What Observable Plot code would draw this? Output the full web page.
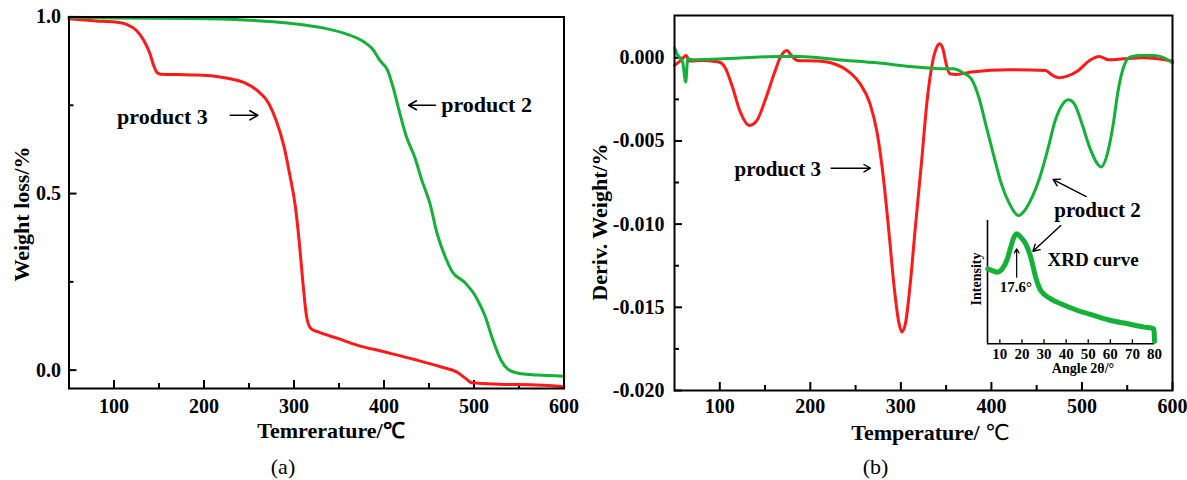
<!DOCTYPE html>
<html>
<head>
<meta charset="utf-8">
<script src="https://cdn.jsdelivr.net/npm/d3@7"></script>
<script src="https://cdn.jsdelivr.net/npm/@observablehq/plot@0.6"></script>
<style>
  html, body { margin: 0; padding: 0; background: #fff; }
  #root { position: relative; width: 1187px; height: 480px; overflow: hidden; background: #fff; font-family: "Liberation Serif", "Times New Roman", serif; }
  #root svg { position: absolute; overflow: visible; background: transparent; }
  #root svg text { font-family: "Liberation Serif", "Times New Roman", serif; font-weight: bold; fill: #000; }
  .lbl { position: absolute; white-space: nowrap; color: #000; transform: translate(-50%, -50%); font-weight: bold; line-height: 1; }
  .rot { transform: translate(-50%, -50%) rotate(-90deg); }
  .thin { font-weight: normal; font-family: "DejaVu Sans", sans-serif; }
</style>
</head>
<body>
<div id="root"></div>
<script>
// ---------- data: panel (a) TGA ----------
const tgaTempP3 = [50, 80, 101, 114, 125, 133, 140, 144, 148, 152, 186, 212, 229, 246, 259, 272, 280, 289, 295, 301.6, 306, 310, 314, 318.7, 327, 348.5, 370, 400, 434, 463.6, 480.6, 491, 497.7, 527.5, 570, 600];
const tgaWeightP3 = [0.995, 0.989, 0.986, 0.979, 0.962, 0.934, 0.896, 0.863, 0.842, 0.838, 0.836, 0.832, 0.825, 0.813, 0.792, 0.755, 0.708, 0.632, 0.557, 0.462, 0.358, 0.245, 0.151, 0.118, 0.108, 0.090, 0.071, 0.052, 0.030, 0.009, -0.005, -0.024, -0.036, -0.040, -0.042, -0.047];
const tgaTempP2 = [50, 101, 186.5, 250, 293, 336, 357, 378, 387, 395.4, 404, 410, 416.7, 425, 434, 442, 451, 459, 468, 476, 489, 502, 512.6, 521, 530, 538, 549, 570, 600];
const tgaWeightP2 = [0.999, 0.997, 0.996, 0.991, 0.983, 0.967, 0.953, 0.929, 0.910, 0.877, 0.849, 0.802, 0.736, 0.660, 0.604, 0.538, 0.472, 0.387, 0.321, 0.278, 0.250, 0.208, 0.151, 0.085, 0.028, 0.002, -0.009, -0.014, -0.017];

// ---------- data: panel (b) DTG ----------
const dtgTempP3 = [50, 57, 63, 66, 82, 99, 105.5, 114, 122, 133, 141, 150, 160, 167, 174, 179, 186, 209, 226, 243, 255, 266, 274, 280.6, 287, 293, 298, 301, 305, 310, 316, 323, 329, 335.4, 339.7, 343, 346.4, 350, 354, 361, 377.6, 420, 460, 466, 474.7, 483, 496, 508.4, 519, 529.5, 546, 567.5, 600];
const dtgDerivP3 = [-0.00046, -0.00016, 0.00014, -0.00020, -0.00016, -0.00026, -0.00056, -0.00176, -0.00317, -0.00407, -0.00377, -0.00257, -0.00096, 0.00004, 0.00044, 0.00014, -0.00016, -0.00020, -0.00036, -0.00086, -0.00156, -0.00277, -0.00457, -0.00717, -0.01058, -0.01399, -0.01599, -0.01649, -0.01599, -0.01379, -0.01018, -0.00617, -0.00257, -0.00016, 0.00064, 0.00084, 0.00054, -0.00036, -0.00096, -0.00100, -0.00086, -0.00072, -0.00076, -0.00100, -0.00120, -0.00112, -0.00076, -0.00016, 0.00008, -0.00012, -0.00006, 0.00000, -0.00020];
const dtgTempP2 = [50, 52.7, 59, 62.4, 64.6, 69.6, 99, 167, 188, 230, 276, 310, 348, 358, 369, 377.6, 386, 394.5, 403, 411, 420, 430, 436.7, 445, 453.6, 462, 470.5, 479, 485, 491.6, 500, 508.4, 517, 521, 527, 534, 540, 546, 552.8, 563, 580, 593, 600];
const dtgDerivP2 = [0.00060, 0.00024, -0.00026, -0.00146, -0.00006, -0.00012, -0.00008, 0.00008, 0.00008, -0.00012, -0.00032, -0.00052, -0.00066, -0.00066, -0.00092, -0.00126, -0.00236, -0.00417, -0.00597, -0.00758, -0.00878, -0.00948, -0.00918, -0.00838, -0.00717, -0.00557, -0.00377, -0.00277, -0.00253, -0.00277, -0.00397, -0.00537, -0.00637, -0.00657, -0.00597, -0.00417, -0.00196, -0.00056, 0.00004, 0.00014, 0.00014, -0.00006, -0.00032];

// ---------- data: inset XRD ----------
const xrdAngle = [4.5, 6.5, 8.8, 11.1, 13.4, 14.9, 16.4, 17.6, 19.4, 21.7, 24, 26.2, 28.5, 33, 37.6, 45.2, 52.7, 60.3, 67.9, 75.5, 79.7, 80];
const xrdIntensity = [60.8, 59.4, 58.1, 60.8, 68.9, 78.3, 86.5, 89.2, 86.5, 81.1, 70.2, 54.0, 43.2, 36.5, 32.4, 27.0, 22.9, 18.9, 16.2, 13.5, 12.2, 2];

// ---------- ticks ----------
const tempTicks = [100, 200, 300, 400, 500, 600];
const tempMinorTicks = [150, 250, 350, 450, 550];
const weightTicks = [0, 0.5, 1.0];
const weightMinorTicks = [0.25, 0.75];
const derivTicks = [0, -0.005, -0.010, -0.015, -0.020];
const derivMinorTicks = [-0.0025, -0.0075, -0.0125, -0.0175];
const angleTicks = [10, 20, 30, 40, 50, 60, 70, 80];

// ---------- annotations ----------
const labelsA = [
  {text: "product 3", x: 103.4, y: 0.717},
  {text: "product 2", x: 463.6, y: 0.750}
];
const arrowsA = [
  {x1: 229.2, y1: 0.7217, x2: 259.8, y2: 0.7217},
  {x1: 457.2, y1: 0.750, x2: 427.4, y2: 0.750}
];
const labelsB = [
  {text: "product 3", x: 116.3, y: -0.00668, size: 21},
  {text: "product 2", x: 469.4, y: -0.00918, size: 21},
  {text: "XRD curve", x: 461.9, y: -0.01218, size: 19}
];
const arrowsB = [
  {x1: 223, y1: -0.00664, x2: 266.4, y2: -0.00664},
  {x1: 504.8, y1: -0.00834, x2: 468.2, y2: -0.00732},
  {x1: 476.6, y1: -0.01008, x2: 445.9, y2: -0.01163}
];
const labelsInset = [{text: "17.6°", x: 10, y: 45.9}];
const arrowsInset = [{x1: 17.6, y1: 54, x2: 17.6, y2: 77}];

const RED = "#ff1a1a";
const GREEN = "#14b139";

const root = document.getElementById("root");
const zip = (xs, ys) => xs.map((x, i) => ({x, y: ys[i]}));

// inward ticks: short rules from the frame edge, length given in pixels
function inwardX(ticks, xDom, yDom, innerH, len, sw) {
  const y0 = yDom[0], dy = (yDom[1] - yDom[0]) * len / innerH;
  return Plot.ruleX(ticks, {x: d => d, y1: () => y0, y2: () => y0 + dy, stroke: "#000", strokeWidth: sw});
}
function inwardY(ticks, xDom, innerW, len, sw) {
  const x0 = xDom[0], dx = (xDom[1] - xDom[0]) * len / innerW;
  return Plot.ruleY(ticks, {y: d => d, x1: () => x0, x2: () => x0 + dx, stroke: "#000", strokeWidth: sw});
}

// ---------- panel (a) ----------
const A = {w: 590, h: 480, ml: 68.5, mr: 26.5, mt: 16.5, mb: 92};
const aiW = A.w - A.ml - A.mr, aiH = A.h - A.mt - A.mb;
const aX = [50, 600], aY = [-0.052, 1.0];
const plotA = Plot.plot({
  width: A.w, height: A.h,
  marginLeft: A.ml, marginRight: A.mr, marginTop: A.mt, marginBottom: A.mb,
  x: {domain: aX},
  y: {domain: aY},
  style: {fontFamily: "Liberation Serif", fontSize: "20px", background: "transparent", overflow: "visible"},
  marks: [
    Plot.axisX(tempTicks, {tickSize: 0, tickPadding: 10, fontSize: 20, label: null}),
    Plot.axisY(weightTicks, {tickSize: 0, tickPadding: 8, fontSize: 20, label: null, tickFormat: d => d.toFixed(1)}),
    inwardX(tempTicks, aX, aY, aiH, 8, 2),
    inwardX(tempMinorTicks, aX, aY, aiH, 5, 2),
    inwardY(weightTicks, aX, aiW, 8, 2),
    inwardY(weightMinorTicks, aX, aiW, 5, 2),
    Plot.line(zip(tgaTempP3, tgaWeightP3), {x: "x", y: "y", stroke: RED, strokeWidth: 3, curve: "monotone-x"}),
    Plot.line(zip(tgaTempP2, tgaWeightP2), {x: "x", y: "y", stroke: GREEN, strokeWidth: 3, curve: "monotone-x"}),
    Plot.frame({stroke: "#000", strokeWidth: 2}),
    Plot.text(labelsA, {x: "x", y: "y", text: "text", textAnchor: "start", fontSize: 22}),
    Plot.arrow(arrowsA, {x1: "x1", y1: "y1", x2: "x2", y2: "y2", stroke: "#000", strokeWidth: 1.6, headLength: 9})
  ]
});
plotA.style.left = "0px"; plotA.style.top = "0px";
root.appendChild(plotA);

// ---------- panel (b) ----------
const B = {w: 597, h: 480, ml: 84, mr: 15, mt: 15, mb: 90};
const biW = B.w - B.ml - B.mr, biH = B.h - B.mt - B.mb;
const bX = [50, 600], bY = [-0.020, 0.00254];
const plotB = Plot.plot({
  width: B.w, height: B.h,
  marginLeft: B.ml, marginRight: B.mr, marginTop: B.mt, marginBottom: B.mb,
  x: {domain: bX},
  y: {domain: bY},
  style: {fontFamily: "Liberation Serif", fontSize: "20px", background: "transparent", overflow: "visible"},
  marks: [
    Plot.axisX(tempTicks, {tickSize: 0, tickPadding: 8, fontSize: 20, label: null}),
    Plot.axisY(derivTicks, {tickSize: 0, tickPadding: 10, fontSize: 20, label: null, tickFormat: d => d.toFixed(3)}),
    inwardX(tempTicks, bX, bY, biH, 8, 2),
    inwardX(tempMinorTicks, bX, bY, biH, 5, 2),
    inwardY(derivTicks, bX, biW, 8, 2),
    inwardY(derivMinorTicks, bX, biW, 5, 2),
    Plot.line(zip(dtgTempP3, dtgDerivP3), {x: "x", y: "y", stroke: RED, strokeWidth: 3, curve: "monotone-x"}),
    Plot.line(zip(dtgTempP2, dtgDerivP2), {x: "x", y: "y", stroke: GREEN, strokeWidth: 3, curve: "monotone-x"}),
    Plot.frame({stroke: "#000", strokeWidth: 2}),
    Plot.text(labelsB, {x: "x", y: "y", text: "text", textAnchor: "start", fontSize: d => d.size}),
    Plot.arrow(arrowsB, {x1: "x1", y1: "y1", x2: "x2", y2: "y2", stroke: "#000", strokeWidth: 1.4, headLength: 8})
  ]
});
plotB.style.left = "590px"; plotB.style.top = "0px";
root.appendChild(plotB);

// ---------- inset (XRD) ----------
const C = {w: 210, h: 180, ml: 27, mr: 16, mt: 20, mb: 36.7};
const ciH = C.h - C.mt - C.mb;
const cX = [4.4, 80], cY = [0, 100];
const plotC = Plot.plot({
  width: C.w, height: C.h,
  marginLeft: C.ml, marginRight: C.mr, marginTop: C.mt, marginBottom: C.mb,
  x: {domain: cX},
  y: {domain: cY, axis: null},
  style: {fontFamily: "Liberation Serif", fontSize: "15px", background: "transparent", overflow: "visible"},
  marks: [
    Plot.axisX(angleTicks, {tickSize: 0, tickPadding: 5, fontSize: 15, label: null}),
    inwardX(angleTicks, cX, cY, ciH, 4, 1.3),
    Plot.ruleX([cX[0]], {stroke: "#000", strokeWidth: 1.6}),
    Plot.ruleY([cY[0]], {stroke: "#000", strokeWidth: 1.6}),
    Plot.line(zip(xrdAngle, xrdIntensity), {x: "x", y: "y", stroke: GREEN, strokeWidth: 5, curve: "monotone-x"}),
    Plot.text(labelsInset, {x: "x", y: "y", text: "text", textAnchor: "start", fontSize: 15}),
    Plot.arrow(arrowsInset, {x1: "x1", y1: "y1", x2: "x2", y2: "y2", stroke: "#000", strokeWidth: 1.2, headLength: 6})
  ]
});
plotC.style.left = "960px"; plotC.style.top = "200px";
root.appendChild(plotC);

// ---------- HTML labels ----------
function addLabel(html, x, y, size, cls) {
  const d = document.createElement("div");
  d.className = "lbl" + (cls ? " " + cls : "");
  d.style.left = x + "px"; d.style.top = y + "px"; d.style.fontSize = size + "px";
  d.innerHTML = html;
  root.appendChild(d);
}
addLabel("Weight loss/%", 22, 214, 22, "rot");
addLabel("Temrerature/℃", 331, 431, 22);
addLabel('<span style="font-weight:normal">(a)</span>', 283, 467, 22);
addLabel("Deriv. Weight/%", 599.5, 222, 22, "rot");
addLabel('Temperature/ <span class="thin">℃</span>', 930.5, 433, 22);
addLabel('<span style="font-weight:normal">(b)</span>', 875.5, 467, 22);
addLabel("Intensity", 976.7, 279, 14, "rot");
addLabel("Angle 2θ/°", 1083, 369, 14);
</script>
</body>
</html>
